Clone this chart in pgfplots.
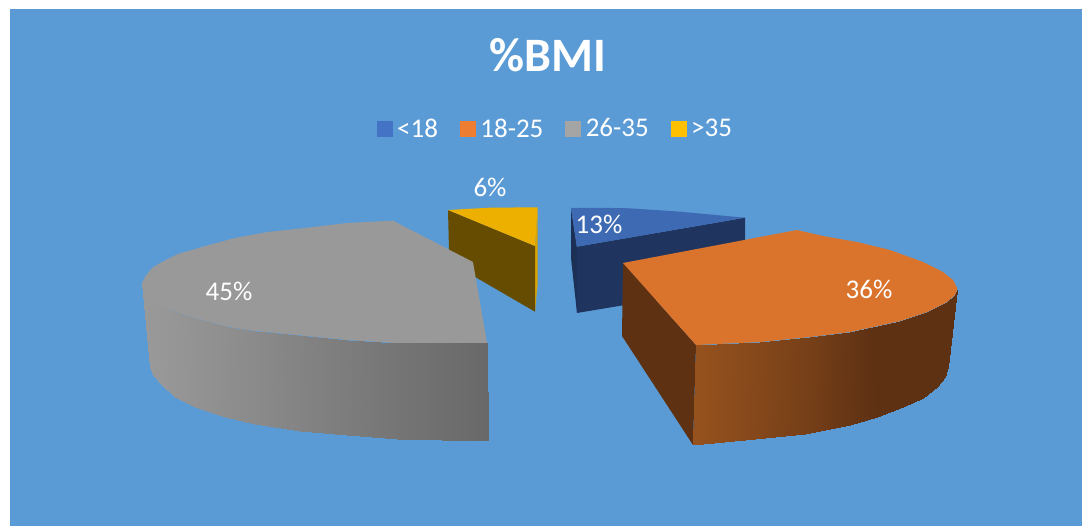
\documentclass[border=0pt]{standalone}
\usepackage{pgfplots}
\pgfplotsset{compat=1.18}
\usepackage{fontspec}
\setmainfont{Carlito}
\definecolor{panel}{HTML}{5B9BD5}
\definecolor{legA}{HTML}{4472C4}
\definecolor{legB}{HTML}{ED7D31}
\definecolor{legC}{HTML}{A5A5A5}
\definecolor{legD}{HTML}{FFC000}
\definecolor{yelTop}{RGB}{237,176,0}
\definecolor{yelWall}{RGB}{101,76,0}
\definecolor{yelEdge}{RGB}{217,164,0}
\definecolor{bluTop}{RGB}{62,105,179}
\definecolor{bluWall}{RGB}{31,53,96}
\definecolor{bluEdge}{RGB}{28,47,85}
\definecolor{oraTop}{RGB}{218,116,44}
\definecolor{oraWall}{RGB}{94,49,19}
\definecolor{gryTop}{RGB}{153,153,153}
\pgfplotsset{
  wedge/.style={draw=none,fill=#1,forget plot,mark=none},
  legsq/.style={legend image code/.code={\fill[#1] (0pt,-7.5pt) rectangle (15pt,7.5pt);}},
}
\begin{document}
\begin{tikzpicture}
\begin{axis}[
  scale only axis,width=1082pt,height=526pt,
  xmin=0,xmax=1082,ymin=0,ymax=526,y dir=reverse,
  hide axis,clip=true,
  point meta min=0,point meta max=1,
  title={\bfseries\%BMI},
  title style={at={(0.5065,0.884)},anchor=center,font=\fontsize{48}{48}\selectfont,text=white},
  legend columns=4,
  legend style={at={(0.3482,0.7555)},anchor=west,draw=none,fill=none,
    font=\fontsize{27}{27}\selectfont,text=white,inner sep=0pt,outer sep=0pt,
    /tikz/every even column/.append style={column sep=20pt},
    /tikz/every odd column/.append style={column sep=3pt}},
]
% canvas and chart panel
\addplot[wedge=white] coordinates {(0,0) (1082,0) (1082,526) (0,526)};
\addplot[wedge=panel] coordinates {(10,9) (1082,9) (1082,526) (10,526)};

% slice >35
\addplot[wedge=yelEdge] coordinates {(537.7,207.3) (535,246) (535,311.7) (537.7,283)};
\addplot[wedge=yelWall] coordinates {(448,210) (535,246) (535,311.7) (449.3,262)};
\addplot[wedge=yelTop] coordinates {(448,210) (490,207.7) (537.7,207.3) (535,246)};

% slice <18
\addplot[wedge=bluEdge] coordinates {(571,208) (577,247) (577,313) (571,258)};
\addplot[wedge=bluWall] coordinates {(576.7,246.7) (745,217.7) (745,285) (577,313)};
\addplot[wedge=bluTop] coordinates {(571,208) (600,207.8) (630,208.3) (680,211.7) (745,217.7) (576.7,246.7)};

% slice 18-25
\addplot[wedge=oraWall] coordinates {(623,263) (696,345) (693,445) (622,336)};
\addplot[surf,shader=interp,forget plot,mesh/rows=2,point meta=explicit,
  colormap={orangewall}{rgb255(0cm)=(150,82,30) rgb255(8cm)=(94,49,19) rgb255(10cm)=(94,49,19)}]
  coordinates {
  (696,345) [0] (760,342) [0.25] (810,337) [0.45] (850,332) [0.68] (873,327) [0.8] (900,321) [0.9] (927,312) [1] (947,302) [1] (955,295) [1] (957,290) [1]
  (693,445) [0] (755,439) [0.25] (805,434) [0.45] (850,425) [0.68] (877,417) [0.8] (903,407) [0.9] (923,398) [1] (937,387) [1] (945,377) [1] (948,367) [1]
  };
\addplot[wedge=oraTop] coordinates {
  (623,263) (797,230) (823,236) (857,242) (890,250) (923,262) (943,272) (953,280) (957,288) (957,290)
  (955,295) (947,302) (927,312) (900,321) (873,327) (850,332) (810,337) (760,342) (696,345)};

% slice 26-35
\addplot[surf,shader=interp,forget plot,mesh/rows=2,point meta=explicit,
  colormap={greywall}{rgb255(0cm)=(153,153,153) rgb255(10cm)=(105,105,105)}]
  coordinates {
  (142,283) [0] (145,293) [0.01] (157,305) [0.03] (172,311) [0.07] (195,318) [0.13] (228,327) [0.22] (255,331) [0.3] (297,335) [0.45] (347,340) [0.6] (397,343) [0.75] (442,343) [0.88] (487,343) [1]
  (150,367) [0] (153,375) [0.01] (162,385) [0.03] (175,397) [0.07] (195,407) [0.13] (225,417) [0.22] (255,424) [0.3] (300,431) [0.45] (347,435) [0.6] (397,439) [0.75] (442,440) [0.88] (488,441) [1]
  };
\addplot[wedge=gryTop] coordinates {
  (473,262) (393,220.7) (347,223) (305,228) (268,232) (235,238) (202,247) (178,254) (162,262) (152,268) (145,277) (142,283)
  (145,293) (157,305) (172,311) (195,318) (228,327) (255,331) (297,335) (347,340) (397,343) (487,343)};

\addlegendimage{legsq=legA}\addlegendentry{<18}
\addlegendimage{legsq=legB}\addlegendentry{18-25}
\addlegendimage{legsq=legC}\addlegendentry{26-35}
\addlegendimage{legsq=legD}\addlegendentry{>35}

% value labels
\node[text=white,font=\fontsize{27}{27}\selectfont] at (axis cs:490,187) {6\%};
\node[text=white,font=\fontsize{27}{27}\selectfont] at (axis cs:599,224) {13\%};
\node[text=white,font=\fontsize{27}{27}\selectfont] at (axis cs:869,289) {36\%};
\node[text=white,font=\fontsize{27}{27}\selectfont] at (axis cs:229,291) {45\%};
\end{axis}
\end{tikzpicture}
\end{document}
